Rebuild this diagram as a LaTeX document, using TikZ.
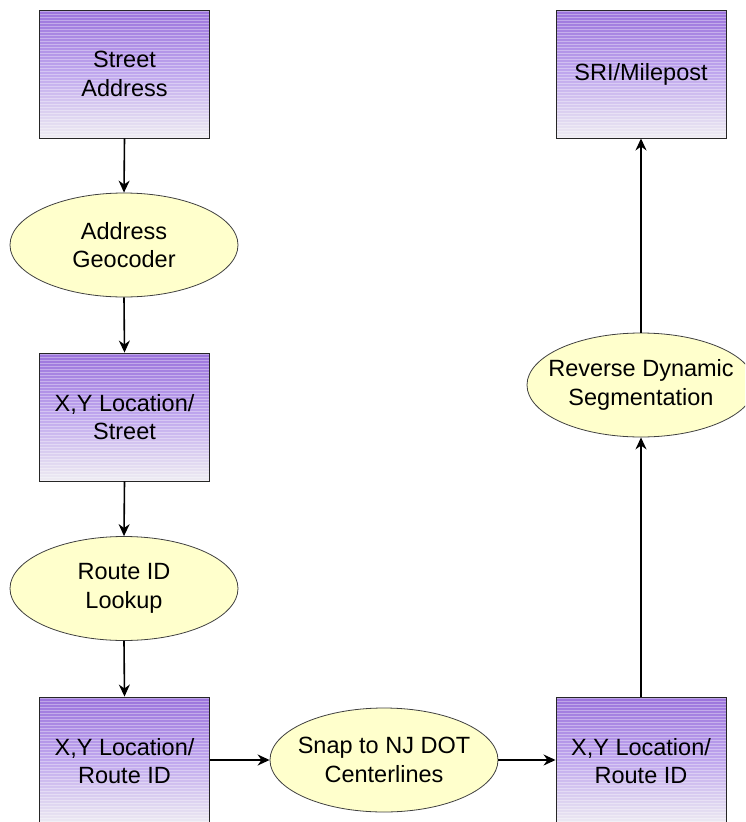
\documentclass[tikz,border=0pt]{standalone}
\usepackage{fontspec}
\setmainfont{Liberation Sans}
\usetikzlibrary{shapes.geometric,arrows.meta}

\definecolor{boxtop}{RGB}{155,115,220}
\definecolor{boxmid}{RGB}{192,168,238}
\definecolor{boxbot}{RGB}{238,236,242}
\definecolor{procfill}{RGB}{255,255,204}

\tikzset{
  datastore/.style={
    rectangle, draw=black!85, line width=0.9pt,
    minimum width=170pt, minimum height=128pt, inner sep=0pt,
    top color=boxtop, bottom color=boxbot, middle color=boxmid,
    path picture={
      \foreach \k in {1.5,4.5,...,130}{
        \draw[white, opacity=.35, line width=1.1pt]
          ([yshift=-\k pt]path picture bounding box.north west) --
          ([yshift=-\k pt]path picture bounding box.north east);
      }
    }
  },
  process/.style={
    ellipse, draw=black!75, line width=0.8pt, fill=procfill,
    minimum width=228pt, minimum height=104pt, inner sep=0pt
  },
  caption/.style={align=center, font=\fontsize{23.5}{28.5}\selectfont, inner sep=0pt},
  flow/.style={line width=1.6pt, -{Stealth[length=12pt,width=11pt]}}
}

\begin{document}
\begin{tikzpicture}[x=1pt,y=-1pt]
  \clip (0,0) rectangle (745,822);
  \fill[white] (0,0) rectangle (745,822);

  % left column
  \node[datastore] (addr) at (124.5,74) {};
  \node[caption] at (addr) {Street\\Address};

  \node[process] (geo) at (124,245) {};
  \node[caption] at (geo) {Address\\Geocoder};

  \node[datastore] (xystreet) at (124.5,417) {};
  \node[caption] at (xystreet) {X,Y Location/\\Street};

  \node[process] (lookup) at (124,588.5) {};
  \node[caption] at (lookup) {Route ID\\Lookup};

  \node[datastore] (xyroute) at (124.5,761) {};
  \node[caption] at (xyroute) {X,Y Location/\\Route ID};

  % bottom middle
  \node[process] (snap) at (384,760) {};
  \node[caption] at (snap) {Snap to NJ DOT\\Centerlines};

  % right column
  \node[datastore] (xysnap) at (641,761) {};
  \node[caption] at (xysnap) {X,Y Location/\\Route ID};

  \node[process] (rds) at (641,385) {};
  \node[caption] at (rds) {Reverse Dynamic\\Segmentation};

  \node[datastore] (sri) at (641,74) {};
  \node[caption] at (sri) {SRI/Milepost};

  % connectors
  \draw[flow] (addr.south) -- (geo.north);
  \draw[flow] (geo.south) -- (xystreet.north);
  \draw[flow] (xystreet.south) -- (lookup.north);
  \draw[flow] (lookup.south) -- (xyroute.north);
  \draw[flow] (xyroute.east |- snap.west) -- (snap.west);
  \draw[flow] (snap.east) -- (xysnap.west |- snap.east);
  \draw[flow] (xysnap.north) -- (rds.south);
  \draw[flow] (rds.north) -- (sri.south);
\end{tikzpicture}
\end{document}
